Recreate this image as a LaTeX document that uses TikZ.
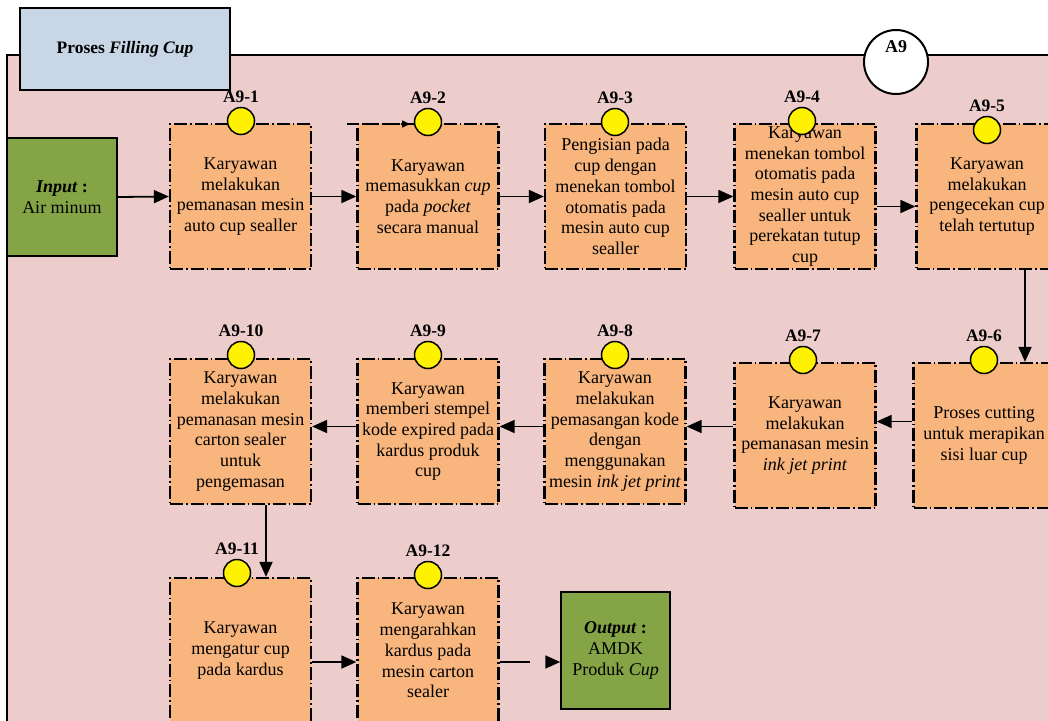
\documentclass[tikz,border=0pt]{standalone}
\usepackage{fontspec}
\setmainfont{Liberation Serif}
\usetikzlibrary{arrows.meta,calc}
\definecolor{framepink}{RGB}{236,205,204}
\definecolor{procorange}{RGB}{248,181,125}
\definecolor{iogreen}{RGB}{132,164,69}
\definecolor{titleblue}{RGB}{201,214,229}
\begin{document}
\begin{tikzpicture}[x=1pt,y=-1pt,
  body/.style={font=\fontsize{18}{20.7}\selectfont},
  proc/.style={body, draw, fill=procorange, line width=2.3pt,
    dash pattern=on 13pt off 3pt on 1.5pt off 3pt,
    minimum width=141pt, minimum height=145pt, align=center, inner sep=1pt},
  io/.style={body, draw, fill=iogreen, line width=1.5pt, align=center},
  dot/.style={circle, draw, fill=yellow, line width=1.5pt, minimum size=27pt, inner sep=0pt},
  lbl/.style={font=\fontsize{17.5}{20}\selectfont\bfseries, inner sep=0pt, label distance=4pt},
  flow/.style={line width=1.8pt, -{Triangle[length=15pt,width=13pt]}},
  gapflow/.style={flow, dash pattern=on 30pt off 40pt}
]
\useasboundingbox (0,0) rectangle (1048,720);
\clip (0,0) rectangle (1048,720);

% context frame
\path[draw, fill=framepink, line width=2.5pt] (7,55) rectangle (1080,760);

% title and node number
\node[draw, fill=titleblue, line width=1.5pt, minimum width=210pt, minimum height=82pt,
  font=\fontsize{17.5}{20}\selectfont\bfseries] (title) at (125,49) {Proses \textit{Filling Cup}};
\node[circle, draw, fill=white, line width=2pt, minimum size=64pt] (ctx) at (896,62) {};
\node[font=\fontsize{18}{20}\selectfont\bfseries] (ctxt) at (896,47) {A9};

% input / output
\node[io, minimum width=110pt, minimum height=118pt] (in) at (62,197)
  {\textbf{\textit{Input} :}\\Air minum};
\node[io, minimum width=109pt, minimum height=117pt] (out) at (615.5,650.5)
  {\textbf{\textit{Output} :}\\AMDK\\Produk \textit{Cup}};

% process steps
\node[proc] (p1) at (240.5,196.5) {Karyawan\\melakukan\\pemanasan mesin\\auto cup sealler};
\node[proc] (p2) at (428,196.5) {Karyawan\\memasukkan \textit{cup}\\pada \textit{pocket}\\secara manual};
\node[proc] (p3) at (615.5,196.5) {Pengisian pada\\cup dengan\\menekan tombol\\otomatis pada\\mesin auto cup\\sealler};
\node[proc] (p4) at (805,196.5) {Karyawan\\menekan tombol\\otomatis pada\\mesin auto cup\\sealler untuk\\perekatan tutup\\cup};
\node[proc] (p5) at (987,196.5) {Karyawan\\melakukan\\pengecekan cup\\telah tertutup};
\node[proc] (p6) at (984,435.5) {Proses cutting\\untuk merapikan\\sisi luar cup};
\node[proc] (p7) at (805,435.5) {Karyawan\\melakukan\\pemanasan mesin\\\textit{ink jet print}};
\node[proc] (p8) at (615,431.5) {Karyawan\\melakukan\\pemasangan kode\\dengan\\menggunakan\\mesin \textit{ink jet print}};
\node[proc] (p9) at (428,431.5) {Karyawan\\memberi stempel\\kode expired pada\\kardus produk\\cup};
\node[proc] (p10) at (240.5,431.5) {Karyawan\\melakukan\\pemanasan mesin\\carton sealer\\untuk\\pengemasan};
\node[proc] (p11) at (240.5,650.5) {Karyawan\\mengatur cup\\pada kardus};
\node[proc] (p12) at (428,650.5) {Karyawan\\mengarahkan\\kardus pada\\mesin carton\\sealer};

% flows
\draw[flow] (in.east) -- (p1.west);
\draw[flow] (p1.east) -- (p2.west);
\draw[flow] (p2.east) -- (p3.west);
\draw[flow] (p3.east) -- (p4.west);
\draw[flow] ([yshift=-10pt]p4.east) -- ([yshift=-10pt]p5.west);
\draw[flow] ([xshift=38pt]p5.south) -- ([xshift=38pt]p5.south |- p6.north);
\draw[flow] ([yshift=14pt]p6.west) -- ([yshift=14pt]p6.west -| p7.east);
\draw[flow] ([yshift=9pt]p7.west) -- ([yshift=9pt]p7.west -| p8.east);
\draw[flow] ([yshift=5pt]p8.west) -- ([yshift=5pt]p8.west -| p9.east);
\draw[flow] ([yshift=5pt]p9.west) -- ([yshift=5pt]p9.west -| p10.east);
\draw[flow] ([xshift=25.5pt]p10.south) -- ([xshift=25.5pt]p10.south |- p11.north);
\draw[flow] ([yshift=-11.5pt]p11.east) -- ([yshift=-11.5pt]p11.east -| p12.west);
\draw[gapflow] ([yshift=-11.5pt]p12.east) -- ([yshift=-11.5pt]p12.east -| out.west);

% short arrow along the top of step 2
\coordinate (s0) at (347,124);
\coordinate (s1) at (410,124);
\draw[line width=1.5pt, dash pattern=on 12pt off 3pt on 1.5pt off 3pt,
  -{Triangle[length=8pt,width=7pt]}] (s0) -- (s1);

% step markers
\node[dot, label={[lbl]90:A9-1}] (d1) at (241,121) {};
\node[dot, label={[lbl]90:A9-2}] (d2) at (428,122) {};
\node[dot, label={[lbl]90:A9-3}] (d3) at (615,122) {};
\node[dot, label={[lbl]90:A9-4}] (d4) at (802,121) {};
\node[dot, label={[lbl]90:A9-5}] (d5) at (987,130) {};
\node[dot, label={[lbl]90:A9-6}] (d6) at (984,360) {};
\node[dot, label={[lbl]90:A9-7}] (d7) at (803,360) {};
\node[dot, label={[lbl]90:A9-8}] (d8) at (615,355) {};
\node[dot, label={[lbl]90:A9-9}] (d9) at (428,355) {};
\node[dot, label={[lbl]90:A9-10}] (d10) at (241,355) {};
\node[dot, label={[lbl]90:A9-11}] (d11) at (237,573) {};
\node[dot, label={[lbl]90:A9-12}] (d12) at (428,575) {};
\end{tikzpicture}
\end{document}
